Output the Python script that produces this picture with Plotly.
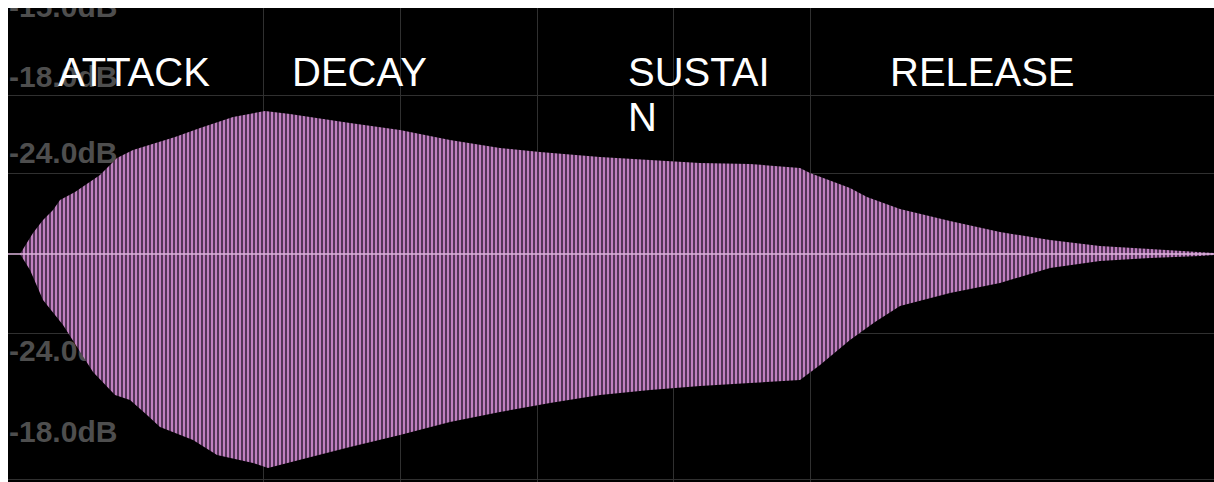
import plotly.graph_objects as go

# ---- data (time in px-like units, amplitude relative to centre) ----
env_top_x = [20, 33, 43, 53, 60, 75, 100, 117, 133, 150, 175, 200, 233, 265, 290, 350, 400,
             450, 500, 540, 600, 650, 700, 750, 800, 810, 833, 850, 867, 900, 950, 1000,
             1050, 1100, 1150, 1200, 1214]
env_top_y = [0, 21, 34, 44, 54, 62, 79, 96, 104, 109, 117, 126, 137, 143, 140, 131, 124,
             114, 106, 102, 97, 94, 91, 90, 86, 81, 72, 66, 57, 45, 33, 22,
             14, 8, 5, 2, 1]

env_bot_x = [20, 30, 43, 63, 93, 115, 130, 147, 160, 193, 217, 253, 268, 300, 350, 400, 450,
             500, 550, 600, 650, 700, 750, 800, 820, 850, 875, 900, 950, 1000, 1050, 1100,
             1150, 1200, 1214]
env_bot_y = [0, -16, -46, -71, -118, -141, -146, -161, -173, -186, -201, -209, -214, -206,
             -193, -181, -168, -158, -149, -141, -136, -132, -129, -126, -111, -86, -68,
             -52, -39, -29, -14, -7, -4, -2, -1]

grid_x = [263, 400, 537, 673, 810]
grid_y = [159, 81, -79, -225]

db_labels = ["-15.0dB", "-18.0dB", "-24.0dB", "-24.0dB", "-18.0dB"]
db_label_y = [245, 175, 99, -99, -180]

phase_labels = ["ATTACK", "DECAY", "SUSTAI", "N", "RELEASE"]
phase_x = [58, 292, 628, 628, 890]
phase_y = [178.5, 178.5, 178.5, 133.5, 178.5]

PINK = "#c080c0"

fig = go.Figure()

# dB labels (clipped to the plot area)
fig.add_trace(go.Scatter(
    x=[9] * len(db_labels), y=db_label_y, text=db_labels, mode="text",
    textposition="middle right", cliponaxis=True, hoverinfo="skip",
    textfont=dict(family="Liberation Sans, Arial, sans-serif", size=30,
                  color="#4e4e4e", weight="bold"),
    showlegend=False))

# waveform envelope
poly_x = env_top_x + env_bot_x[::-1]
poly_y = env_top_y + env_bot_y[::-1]
fig.add_trace(go.Scatter(
    x=poly_x, y=poly_y, mode="lines", fill="toself", line=dict(width=0),
    fillcolor=PINK,
    fillpattern=dict(shape="|", bgcolor=PINK, fgcolor="#24142a",
                     size=4, solidity=0.35, fillmode="replace"),
    hoverinfo="skip", showlegend=False))

# phase labels
fig.add_trace(go.Scatter(
    x=phase_x, y=phase_y, text=phase_labels, mode="text",
    textposition="middle right", cliponaxis=True, hoverinfo="skip",
    textfont=dict(family="Liberation Sans, Arial, sans-serif", size=40, color="white"),
    showlegend=False))

# centre line
fig.add_shape(type="line", xref="paper", x0=0, x1=1, yref="y", y0=0, y1=0,
              line=dict(color="#dcb4dc", width=1.5), layer="above")

fig.update_layout(
    width=1214, height=482,
    margin=dict(l=8, r=0, t=8, b=0),
    paper_bgcolor="white", plot_bgcolor="black",
    xaxis=dict(range=[8, 1214], tickvals=grid_x, showticklabels=False, ticks="",
               showgrid=True, gridcolor="#303030", gridwidth=1, zeroline=False,
               showline=False, fixedrange=True),
    yaxis=dict(range=[-228, 246], tickvals=grid_y, showticklabels=False, ticks="",
               showgrid=True, gridcolor="#303030", gridwidth=1, zeroline=False,
               showline=False, fixedrange=True),
    hovermode=False,
)

fig.write_html(
    "out.html",
    config={"displayModeBar": False},
    post_script="document.body.style.margin='0';"
                "document.documentElement.style.overflow='hidden';"
                "document.body.style.overflow='hidden';",
)
